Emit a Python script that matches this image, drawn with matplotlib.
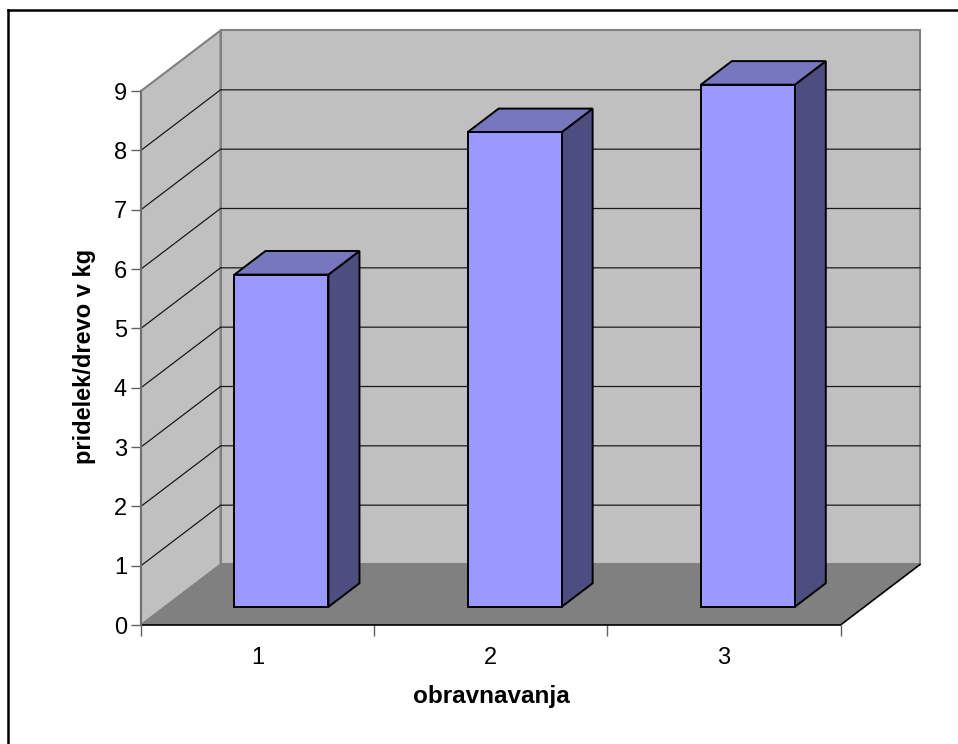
import matplotlib
matplotlib.use('Agg')
import matplotlib.pyplot as plt
from matplotlib.patches import Polygon
from matplotlib.ticker import FixedLocator, NullFormatter

categories = [1, 2, 3]
yield_kg = [5.6, 8.0, 8.8]
y_ticks = [0, 1, 2, 3, 4, 5, 6, 7, 8, 9]

W, H = 958, 744
# pseudo 3d depth, one full depth step in data units
DEPTH_X = 79.5 / 233.0
DEPTH_Y = 60.5 / 59.33
BAR_WIDTH = 0.403
BAR_FRONT = 0.30
BAR_BACK = 0.69


def at_depth(x, y, d):
    return (x + d * DEPTH_X, y + d * DEPTH_Y)


def add_face(ax, pts, color, edge='none', lw=0.0, z=1):
    ax.add_patch(Polygon(pts, closed=True, facecolor=color, edgecolor=edge,
                         linewidth=lw, joinstyle='miter', clip_on=False, zorder=z))


plt.rcParams['font.family'] = ['Liberation Sans', 'DejaVu Sans']
fig = plt.figure(figsize=(W / 100, H / 100), dpi=100)
ax = fig.add_axes([141 / W, 1 - 625 / H, 699.5 / W, 534 / H])
ax.set_xlim(0.5, 3.5)
ax.set_ylim(0, 9)
ax.patch.set_visible(False)

x0, x1 = ax.get_xlim()
y0, y1 = ax.get_ylim()

# walls and floor
add_face(ax, [at_depth(x0, y0, 0), at_depth(x0, y1, 0), at_depth(x0, y1, 1), at_depth(x0, y0, 1)],
         '#c0c0c0', '#808080', 1.5)
add_face(ax, [at_depth(x0, y0, 1), at_depth(x0, y1, 1), at_depth(x1, y1, 1), at_depth(x1, y0, 1)],
         '#c0c0c0', '#808080', 1.5)
add_face(ax, [at_depth(x0, y0, 0), at_depth(x0, y0, 1), at_depth(x1, y0, 1), at_depth(x1, y0, 0)],
         '#808080')

# gridlines run along the side wall and the back wall, top level is the wall edge
for v in y_ticks[1:-1]:
    p0, p1, p2 = at_depth(x0, v, 0), at_depth(x0, v, 1), at_depth(x1, v, 1)
    ax.plot([p0[0], p1[0], p2[0]], [p0[1], p1[1], p2[1]], color='#1a1a1a', lw=0.9,
            clip_on=False, zorder=2, solid_joinstyle='miter')

# front and right floor edges
ax.plot([x0, x1, at_depth(x1, y0, 1)[0]], [y0, y0, at_depth(x1, y0, 1)[1]], color='black',
        lw=1.2, clip_on=False, zorder=3)

# boxes
for c, v in zip(categories, yield_kg):
    left, right = c - BAR_WIDTH / 2, c + BAR_WIDTH / 2
    fl, fr = at_depth(left, 0, BAR_FRONT), at_depth(right, 0, BAR_FRONT)
    tl, tr = at_depth(left, v, BAR_FRONT), at_depth(right, v, BAR_FRONT)
    bbr, tbr = at_depth(right, 0, BAR_BACK), at_depth(right, v, BAR_BACK)
    tbl = at_depth(left, v, BAR_BACK)
    add_face(ax, [fr, tr, tbr, bbr], '#4d4d80', 'black', 1.4, z=4)
    add_face(ax, [tl, tbl, tbr, tr], '#7777bf', 'black', 1.4, z=4)
    add_face(ax, [fl, tl, tr, fr], '#9999ff', 'black', 1.4, z=5)

for side in ['top', 'right', 'bottom']:
    ax.spines[side].set_visible(False)
ax.spines['left'].set_color('#707070')
ax.spines['left'].set_linewidth(1.5)
ax.spines['left'].set_zorder(3)

ax.set_yticks(y_ticks)
ax.tick_params(axis='y', length=7.5, width=1.0, color='#606060', pad=2.5, labelsize=17)
ax.set_xticks(categories)
ax.tick_params(axis='x', which='major', length=0, pad=15.5, labelsize=17)
ax.xaxis.set_minor_locator(FixedLocator([0.5, 1.5, 2.5, 3.5]))
ax.xaxis.set_minor_formatter(NullFormatter())
ax.tick_params(axis='x', which='minor', length=8, width=1.0, color='#606060')

fig.text(491 / W, 1 - 703 / H, 'obravnavanja', fontsize=17.5, fontweight='bold', ha='center', va='baseline')
fig.text(84 / W, 1 - 356.5 / H, 'pridelek/drevo v kg', fontsize=17, fontweight='bold', rotation=90,
         ha='center', va='center')

# chart frame, only top and left edges fall inside the image
fig.add_artist(plt.Line2D([8 / W, 8 / W], [0, 1 - 10 / H], color='black', lw=1.8))
fig.add_artist(plt.Line2D([8 / W, 1], [1 - 10 / H, 1 - 10 / H], color='black', lw=1.8))

fig.savefig('out.png', dpi=100, facecolor='white')
